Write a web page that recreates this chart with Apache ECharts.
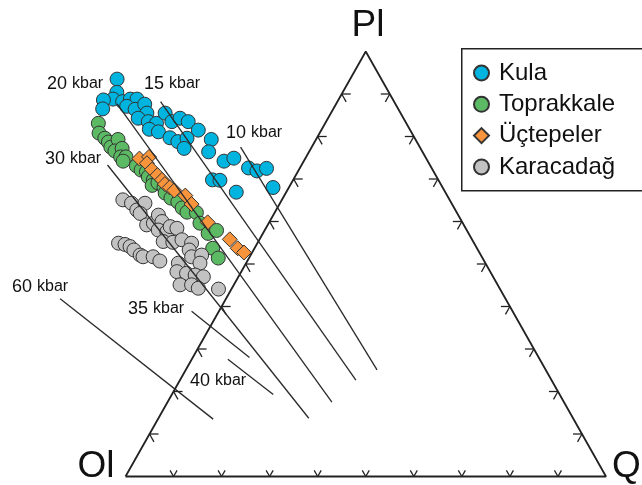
<!DOCTYPE html>
<html>
<head>
<meta charset="utf-8">
<script src="https://cdn.jsdelivr.net/npm/echarts@6/dist/echarts.min.js"></script>
<style>
  html, body { margin: 0; padding: 0; background: #fff; }
  #chart { width: 642px; height: 485px; }
</style>
</head>
<body>
<div id="chart"></div>
<script>
// Projected compositions in the Ol–Pl–Q diagram, given as [Pl %, Q %]; Ol % = 100 − Pl − Q.
const kula = [
  [93.5,-48.5],[90.4,-47.0],[88.8,-47.0],[88.6,-48.9],[86.5,-48.0],[88.2,-44.7],[88.8,-43.4],
  [88.8,-42.0],[87.1,-43.3],[86.4,-41.2],[87.6,-39.8],[85.5,-38.3],[84.3,-39.5],[83.5,-37.0],
  [83.1,-35.1],[81.7,-35.9],[81.1,-33.7],[85.5,-34.5],[83.5,-32.1],[84.3,-30.8],[83.5,-28.7],
  [81.5,-25.6],[79.7,-30.6],[78.8,-28.5],[79.6,-27.0],[77.2,-26.4],[79.3,-21.8],[76.4,-20.9],
  [74.2,-16.6],[74.9,-14.9],[72.6,-10.7],[71.9,-8.6],[72.5,-6.9],[69.8,-16.8],[69.7,-15.2],
  [66.9,-10.4],[68.0,-3.3]
];
const toprakkale = [
  [83.1,-47.2],[80.8,-45.9],[79.6,-44.1],[78.7,-42.9],[77.5,-41.8],[79.3,-41.2],[76.6,-40.5],
  [77.2,-39.3],[75.2,-38.6],[75.2,-37.5],[74.2,-37.6],[73.1,-34.3],[72.1,-32.8],[71.7,-31.5],
  [70.5,-30.5],[69.8,-29.1],[68.5,-28.7],[69.1,-27.8],[68.0,-26.0],[66.7,-25.1],[65.5,-23.3],
  [64.6,-21.4],[63.2,-19.8],[62.2,-18.3],[62.1,-16.3],[59.6,-14.3],[57.2,-11.4],[57.9,-10.0],
  [53.7,-8.7],[51.4,-6.4]
];
const uctepeler = [
  [74.8,-34.5],[75.2,-32.7],[73.7,-32.4],[72.2,-30.6],[70.9,-28.8],[69.8,-27.3],[68.8,-26.2],
  [68.0,-24.8],[67.3,-23.5],[66.1,-20.6],[64.1,-18.3],[59.8,-12.8],[55.8,-6.2],[53.7,-3.5],
  [52.7,-1.7]
];
const karacadag = [
  [65.1,-33.1],[64.3,-30.9],[62.7,-29.0],[64.3,-28.1],[61.9,-27.9],[59.2,-25.2],[59.6,-24.0],
  [61.5,-23.9],[60.0,-22.4],[58.0,-22.2],[57.6,-20.2],[58.8,-20.1],[58.4,-18.5],[55.3,-19.8],
  [55.1,-17.7],[55.7,-16.1],[54.9,-13.7],[53.3,-13.4],[51.7,-12.1],[52.1,-10.2],[50.2,-9.6],
  [54.9,-28.9],[54.6,-27.4],[54.1,-26.1],[53.3,-24.9],[52.1,-23.0],[51.7,-22.2],[51.7,-20.1],
  [50.7,-18.2],[50.2,-14.1],[48.2,-13.4],[47.8,-11.2],[47.4,-9.2],[47.0,-7.3],[45.1,-11.2],
  [45.1,-8.8],[44.3,-7.0],[44.1,-2.7]
];

// Isobars (pressure of multiple saturation), each a segment between two [Pl %, Q %] points.
const isobarNames = ['10 kbar','15 kbar','20 kbar','30 kbar','35 kbar','40 kbar','60 kbar'];
const isobarStart = [[77.5,-14.8],[88.2,-36.8],[87.7,-45.6],[73.3,-40.4],[38.9,-5.7],[27.6,7.5],[41.8,-34.5]];
const isobarEnd   = [[25.1,39.8],[22.7,36.6],[17.5,34.2],[13.7,31.3],[28.0,11.8],[19.3,21.1],[13.5,11.5]];

// Apices and tick steps (percent) along each edge.
const apexNames = ['Ol', 'Pl', 'Q'];
const tickSteps = [10, 20, 30, 40, 50, 60, 70, 80, 90];

// Where each isobar label sits on the page (left edge, vertical middle).
const isobarLabelPos = [[226,133],[144,84],[47,84],[45,159],[128,309],[190,381],[12,287]];

// Ternary [Pl, Q] → plane, with Ol at (0,0), Q at (1,0), Pl at (0.5,1).
function toXY(p) { return [p[1] / 100 + p[0] / 200, p[0] / 100]; }

const FONT = '"Liberation Sans", Arial, Helvetica, sans-serif';
const INK = '#222';

const chart = echarts.init(document.getElementById('chart'), null, { renderer: 'canvas' });

function scatter(name, data, color, symbol, size) {
  return {
    name, type: 'scatter', data: data.map(toXY), symbol, symbolSize: size,
    itemStyle: { color, borderColor: '#333', borderWidth: 1, opacity: 1 },
    clip: false, z: 3, silent: true
  };
}

// Triangle outline
const triangle = {
  type: 'line', data: [toXY([0,0]), toXY([0,100]), toXY([100,0]), toXY([0,0])],
  symbol: 'none', lineStyle: { color: INK, width: 1.8 }, clip: false, z: 2, silent: true
};

// Ticks: edge 0 = Ol–Q base, 1 = Ol–Pl, 2 = Pl–Q
const tickData = [];
tickSteps.forEach(t => {
  tickData.push([0].concat(toXY([0, t])));
  tickData.push([1].concat(toXY([t, 0])));
  tickData.push([2].concat(toXY([100 - t, t])));
});
const sideDir = [0.492, 0.870];
const tickDirs = [
  [[-0.5, -0.866], [0.5, -0.866]],
  [[1, 0], [sideDir[0], sideDir[1]]],
  [[-1, 0], [-sideDir[0], sideDir[1]]]
];
const tickLen = [7, 9, 9];
const ticks = {
  type: 'custom', data: tickData, clip: false, z: 2, silent: true,
  encode: { x: 1, y: 2 },
  renderItem(params, api) {
    const e = api.value(0);
    const pt = api.coord([api.value(1), api.value(2)]);
    const len = tickLen[e];
    return {
      type: 'group',
      children: tickDirs[e].map(d => ({
        type: 'line',
        shape: { x1: pt[0], y1: pt[1], x2: pt[0] + d[0] * len, y2: pt[1] + d[1] * len },
        style: { stroke: INK, lineWidth: 1.3 }
      }))
    };
  }
};

const isobars = isobarNames.map((n, i) => ({
  type: 'line', data: [toXY(isobarStart[i]), toXY(isobarEnd[i])],
  symbol: 'none', lineStyle: { color: '#2a2a2a', width: 1.3 }, clip: false, z: 4, silent: true
}));

const labelGraphics = isobarNames.map((n, i) => {
  const parts = n.split(' ');
  return {
    type: 'text', x: isobarLabelPos[i][0], y: isobarLabelPos[i][1], silent: true,
    style: {
      text: '{n|' + parts[0] + '} {u|' + parts[1] + '}',
      align: 'left', verticalAlign: 'middle', fill: '#111',
      rich: {
        n: { fontSize: 18, fontFamily: FONT, fill: '#111' },
        u: { fontSize: 16, fontFamily: FONT, fill: '#111' }
      },
      fontFamily: FONT, fontSize: 18
    }
  };
});

const apexPos = [[96, 467], [368, 26], [612, 467]];
const apexAlign = ['center', 'center', 'left'];
const apexGraphics = apexNames.map((n, i) => ({
  type: 'text', x: apexPos[i][0], y: apexPos[i][1], silent: true,
  style: { text: n, align: apexAlign[i], verticalAlign: 'middle', fill: '#111', fontSize: 37, fontFamily: FONT }
}));

// Legend frame: runs past the right edge of the page
const legendFrame = {
  type: 'rect', left: 461, top: 48, z: 0, silent: true,
  shape: { width: 220, height: 142 },
  style: { fill: '#fff', stroke: INK, lineWidth: 1.5 }
};

chart.setOption({
  animation: false,
  backgroundColor: '#fff',
  grid: { left: 0, right: 0, top: 0, bottom: 0 },
  xAxis: { type: 'value', min: -125.5 / 480.5, max: 516.5 / 480.5, show: false },
  yAxis: { type: 'value', min: -8.5 / 425, max: 476.5 / 425, show: false },
  legend: {
    orient: 'vertical', left: 461, top: 48, z: 6,
    padding: [13, 10, 11, 12], itemGap: 7.3, itemWidth: 15, itemHeight: 15,
    borderWidth: 0, backgroundColor: 'transparent',
    textStyle: { fontSize: 24, fontFamily: FONT, color: '#111', lineHeight: 22, padding: [0, 0, 0, 5] },
    data: [
      { name: 'Kula', icon: 'circle' },
      { name: 'Toprakkale', icon: 'circle' },
      { name: 'Üçtepeler', icon: 'diamond' },
      { name: 'Karacadağ', icon: 'circle' }
    ]
  },
  graphic: [legendFrame].concat(labelGraphics, apexGraphics),
  series: [
    triangle, ticks,
    scatter('Kula', kula, '#00B4E0', 'circle', 14),
    scatter('Toprakkale', toprakkale, '#5DBA64', 'circle', 14),
    scatter('Üçtepeler', uctepeler, '#F7943C', 'diamond', 15),
    scatter('Karacadağ', karacadag, '#C2C2C2', 'circle', 14)
  ].concat(isobars)
});
</script>
</body>
</html>
